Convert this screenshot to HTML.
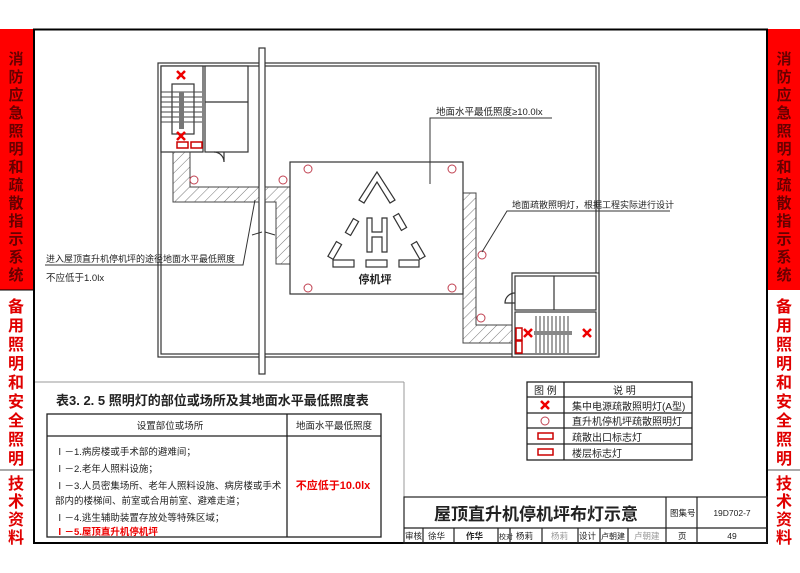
<!DOCTYPE html>
<html><head><meta charset="utf-8"><style>
html,body{margin:0;padding:0;background:#fff;}
svg{display:block;font-family:"Liberation Sans","Noto Sans CJK SC",sans-serif;}
</style></head><body>
<svg width="800" height="573" viewBox="0 0 800 573" xmlns="http://www.w3.org/2000/svg">
<defs>
<pattern id="h" width="7" height="7" patternUnits="userSpaceOnUse" patternTransform="rotate(45)">
<line x1="0" y1="0" x2="0" y2="7" stroke="#555" stroke-width="0.8"/>
</pattern>
</defs>
<rect width="800" height="573" fill="#fff"/>
<rect x="0" y="29" width="33" height="261" fill="#f00"/>
<rect x="767" y="29" width="33" height="261" fill="#f00"/>
<line x1="0" y1="290" x2="33" y2="290" stroke="#000"/>
<line x1="0" y1="470" x2="33" y2="470" stroke="#555"/>
<line x1="767" y1="470" x2="800" y2="470" stroke="#555"/>
<g font-size="15" font-weight="bold" text-anchor="middle" fill="#600">
<text x="16" y="64">消</text><text x="16" y="82">防</text><text x="16" y="100">应</text><text x="16" y="118">急</text><text x="16" y="136">照</text><text x="16" y="154">明</text><text x="16" y="172">和</text><text x="16" y="190">疏</text><text x="16" y="208">散</text><text x="16" y="226">指</text><text x="16" y="244">示</text><text x="16" y="262">系</text><text x="16" y="280">统</text>
<text x="784" y="64">消</text><text x="784" y="82">防</text><text x="784" y="100">应</text><text x="784" y="118">急</text><text x="784" y="136">照</text><text x="784" y="154">明</text><text x="784" y="172">和</text><text x="784" y="190">疏</text><text x="784" y="208">散</text><text x="784" y="226">指</text><text x="784" y="244">示</text><text x="784" y="262">系</text><text x="784" y="280">统</text>
</g>
<g font-size="16" font-weight="bold" text-anchor="middle" fill="#e00000">
<text x="16" y="312">备</text><text x="16" y="331">用</text><text x="16" y="350">照</text><text x="16" y="369">明</text><text x="16" y="388">和</text><text x="16" y="407">安</text><text x="16" y="426">全</text><text x="16" y="445">照</text><text x="16" y="464">明</text>
<text x="16" y="489">技</text><text x="16" y="507">术</text><text x="16" y="525">资</text><text x="16" y="543">料</text>
<text x="784" y="312">备</text><text x="784" y="331">用</text><text x="784" y="350">照</text><text x="784" y="369">明</text><text x="784" y="388">和</text><text x="784" y="407">安</text><text x="784" y="426">全</text><text x="784" y="445">照</text><text x="784" y="464">明</text>
<text x="784" y="489">技</text><text x="784" y="507">术</text><text x="784" y="525">资</text><text x="784" y="543">料</text>
</g>
<rect x="34" y="29.5" width="733" height="513.5" fill="none" stroke="#000" stroke-width="2"/>
<line x1="35" y1="382" x2="404" y2="382" stroke="#999"/>
<line x1="404" y1="382" x2="404" y2="543" stroke="#999"/>

<g fill="none" stroke="#333" stroke-width="1.2">
<rect x="158" y="63" width="441" height="294"/>
<rect x="161" y="66" width="435" height="288"/>
<rect x="259" y="48" width="6" height="326" fill="#fff"/>
<rect x="161" y="66" width="42" height="86" fill="#fff"/>
<rect x="205" y="66" width="43" height="86" fill="#fff"/>
<line x1="205" y1="102" x2="248" y2="102"/>
<path d="M214 152 A10 10 0 0 1 224 162 L224 152"/>
<rect x="172" y="84" width="22" height="50"/>
</g>
<g stroke="#444" stroke-width="1">
<line x1="161" y1="92" x2="202" y2="92"/><line x1="161" y1="97" x2="202" y2="97"/><line x1="161" y1="102" x2="202" y2="102"/><line x1="161" y1="107" x2="202" y2="107"/><line x1="161" y1="112" x2="202" y2="112"/><line x1="161" y1="117" x2="202" y2="117"/><line x1="161" y1="122" x2="202" y2="122"/>
</g>
<rect x="179" y="92" width="5" height="37" fill="#777"/>
<g stroke="#444" stroke-width="1" fill="url(#h)">
<path d="M173 152 L190 152 L190 187 L259 187 L259 202 L173 202 Z"/>
<path d="M265 187 L290 187 L290 264 L276 264 L276 202 L265 202 Z"/>
<path d="M463 193 L476 193 L476 325 L513 325 L513 343 L463 343 Z"/>
</g>
<rect x="290" y="162" width="173" height="132" fill="#fff" stroke="#333" stroke-width="1.2"/>
<g fill="#fff" stroke="#333" stroke-width="1.2">
<path d="M377 172 L359 200 L364 203 L377 182 L390 203 L395 200 Z"/>
<rect x="349" y="219" width="6" height="16" transform="rotate(30 352 227)"/>
<rect x="332" y="242" width="6" height="17" transform="rotate(30 335 250)"/>
<rect x="397" y="214" width="6" height="16" transform="rotate(-30 400 222)"/>
<rect x="415" y="242" width="6" height="17" transform="rotate(-30 418 250)"/>
<rect x="333" y="260" width="21" height="7"/>
<rect x="366" y="260" width="21" height="7"/>
<rect x="399" y="260" width="20" height="7"/>
<path d="M367 218 h5 v14 h10 v-14 h5 v34 h-5 v-15 h-10 v15 h-5 Z"/>
</g>
<text x="375" y="283" font-size="11" font-weight="bold" text-anchor="middle" fill="#222">停机坪</text>
<g fill="#fff" stroke="#333" stroke-width="1.2">
<rect x="512" y="273" width="87" height="84"/>
<rect x="515" y="276" width="81" height="34"/>
<line x1="554" y1="276" x2="554" y2="310"/>
<rect x="515" y="312" width="81" height="42"/>
<path d="M515 293 A10 10 0 0 0 505 303 L515 303" fill="none"/>
</g>
<g stroke="#444" stroke-width="1">
<line x1="536" y1="316" x2="536" y2="353"/><line x1="540" y1="316" x2="540" y2="353"/><line x1="544" y1="316" x2="544" y2="353"/><line x1="548" y1="316" x2="548" y2="353"/><line x1="552" y1="316" x2="552" y2="353"/><line x1="556" y1="316" x2="556" y2="353"/><line x1="560" y1="316" x2="560" y2="353"/><line x1="564" y1="316" x2="564" y2="353"/><line x1="568" y1="316" x2="568" y2="353"/>
</g>
<rect x="534" y="331" width="38" height="4" fill="#888"/>
<g fill="none" stroke="#c04050" stroke-width="1">
<circle cx="194" cy="180" r="4"/><circle cx="283" cy="180" r="4"/>
<circle cx="308" cy="169" r="4"/><circle cx="452" cy="169" r="4"/>
<circle cx="308" cy="288" r="4"/><circle cx="452" cy="288" r="4"/>
<circle cx="482" cy="255" r="4"/><circle cx="481" cy="318" r="4"/>
<circle cx="545" cy="421" r="4"/>
</g>
<g stroke="#e00" stroke-width="2.5">
<path d="M177 71 l8 8 M185 71 l-8 8"/>
<path d="M177 132 l8 8 M185 132 l-8 8"/>
<path d="M524 329 l8 8 M532 329 l-8 8"/>
<path d="M583 329 l8 8 M591 329 l-8 8"/>
<path d="M541 401 l8 8 M549 401 l-8 8"/>
</g>
<g fill="#fff" stroke="#c00" stroke-width="1.5">
<rect x="177" y="142" width="11" height="6"/><rect x="191" y="142" width="11" height="6"/>
<rect x="516" y="328" width="6" height="12"/><rect x="516" y="341" width="6" height="12"/>
<rect x="538" y="433" width="15" height="6"/><rect x="538" y="449" width="15" height="6"/>
</g>
<g stroke="#333" stroke-width="1" fill="none">
<path d="M430 184 L430 118 L552 118"/>
<path d="M482 252 L507 211 L670 211"/>
<path d="M45 265 L243 265 L255 200"/>
<path d="M252 235 L262 232 M265 232 L275 235"/>
</g>
<g font-size="9.5" fill="#222">
<text x="436" y="115">地面水平最低照度≥10.0lx</text>
<text x="512" y="208" font-size="9">地面疏散照明灯，根据工程实际进行设计</text>
<text x="46" y="262" font-size="9">进入屋顶直升机停机坪的途径地面水平最低照度</text>
<text x="46" y="281">不应低于1.0lx</text>
</g>
<g fill="none" stroke="#222" stroke-width="1.3">
<rect x="527" y="382" width="165" height="78"/>
<line x1="564" y1="382" x2="564" y2="460"/>
<line x1="527" y1="397" x2="692" y2="397"/>
<line x1="527" y1="413" x2="692" y2="413"/>
<line x1="527" y1="428" x2="692" y2="428"/>
<line x1="527" y1="444" x2="692" y2="444"/>
</g>
<g font-size="10" fill="#222">
<text x="534" y="394">图  例</text><text x="613" y="394">说  明</text>
<text x="572" y="410">集中电源疏散照明灯(A型)</text>
<text x="572" y="425">直升机停机坪疏散照明灯</text>
<text x="572" y="441">疏散出口标志灯</text>
<text x="572" y="457">楼层标志灯</text>
</g>
<text x="56" y="405" font-size="13" font-weight="bold" fill="#222">表3. 2. 5 照明灯的部位或场所及其地面水平最低照度表</text>
<g fill="none" stroke="#222" stroke-width="1.3">
<rect x="47" y="414" width="334" height="123"/>
<line x1="287" y1="414" x2="287" y2="537"/>
<line x1="47" y1="436" x2="381" y2="436"/>
</g>
<g font-size="9.5" fill="#222">
<text x="170" y="429" text-anchor="middle">设置部位或场所</text>
<text x="334" y="429" text-anchor="middle">地面水平最低照度</text>
<text x="55" y="455">Ⅰ－1.病房楼或手术部的避难间；</text>
<text x="55" y="472">Ⅰ－2.老年人照料设施；</text>
<text x="55" y="489">Ⅰ－3.人员密集场所、老年人照料设施、病房楼或手术</text>
<text x="55" y="504">部内的楼梯间、前室或合用前室、避难走道；</text>
<text x="55" y="521">Ⅰ－4.逃生辅助装置存放处等特殊区域；</text>
<text x="55" y="535" fill="#e00" font-weight="bold">Ⅰ－5.屋顶直升机停机坪</text>
<text x="333" y="489" fill="#e00" font-weight="bold" font-size="11" text-anchor="middle">不应低于10.0lx</text>
</g>
<g fill="none" stroke="#222" stroke-width="1.2">
<rect x="404" y="497" width="363" height="46"/>
<line x1="404" y1="528" x2="767" y2="528"/>
<line x1="666" y1="497" x2="666" y2="543"/>
<line x1="697" y1="497" x2="697" y2="543"/>
<line x1="423" y1="528" x2="423" y2="543"/><line x1="454" y1="528" x2="454" y2="543"/><line x1="498" y1="528" x2="498" y2="543"/><line x1="510" y1="528" x2="510" y2="543"/><line x1="542" y1="528" x2="542" y2="543"/><line x1="578" y1="528" x2="578" y2="543"/><line x1="600" y1="528" x2="600" y2="543"/><line x1="628" y1="528" x2="628" y2="543"/>
</g>
<text x="536" y="520" font-size="17" font-weight="bold" text-anchor="middle" fill="#222">屋顶直升机停机坪布灯示意</text>
<g font-size="8.5" fill="#222">
<text x="670" y="516">图集号</text>
<text x="732" y="516" text-anchor="middle">19D702-7</text>
<text x="405" y="539">审核</text><text x="428" y="539">徐华</text><text x="466" y="539" font-weight="bold">作华</text>
<text x="499" y="539" font-size="7">校对</text><text x="516" y="539">杨莉</text><text x="551" y="539" fill="#999">杨莉</text>
<text x="579" y="539">设计</text><text x="601" y="539" font-size="8">卢朝建</text><text x="634" y="539" fill="#999">卢朝建</text>
<text x="678" y="539">页</text><text x="732" y="539" text-anchor="middle">49</text>
</g>
</svg>
</body></html>
